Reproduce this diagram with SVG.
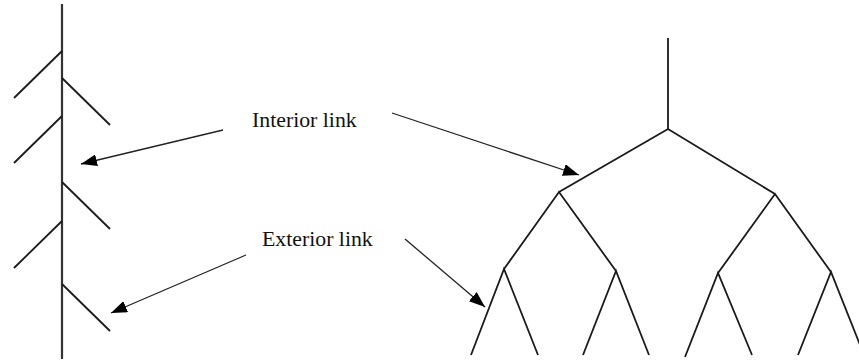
<svg xmlns="http://www.w3.org/2000/svg" width="859" height="362" viewBox="0 0 859 362">
<style>
.tree{stroke:#1a1a1a;stroke-width:1.8;fill:none;stroke-linecap:butt}
.arrow{stroke:#222;stroke-width:1.3;fill:none}
.lbl{font-family:"Liberation Serif","Times New Roman",serif;font-size:21.8px;fill:#111}
</style>
<defs>
<marker id="ah" viewBox="0 0 16 12" refX="16" refY="6" markerWidth="16" markerHeight="12" markerUnits="userSpaceOnUse" orient="auto">
<polygon points="0,0 16,6 0,12" fill="#000"/>
</marker>
</defs>
<rect width="859" height="362" fill="#fff"/>
<g id="caterpillar">
<line class="tree" x1="62" y1="4" x2="62" y2="359" style="stroke:#333;stroke-width:2.2"/>
<line class="tree" x1="62" y1="51" x2="14" y2="98"/>
<line class="tree" x1="62" y1="116" x2="14" y2="163"/>
<line class="tree" x1="62" y1="221" x2="14" y2="268"/>
<line class="tree" x1="62" y1="78" x2="110" y2="125"/>
<line class="tree" x1="62" y1="182" x2="110" y2="229"/>
<line class="tree" x1="62" y1="284" x2="110" y2="331"/>
</g>
<g id="balanced">
<line class="tree" x1="668" y1="38" x2="668" y2="129"/>
<polyline class="tree" points="559,192 668,129 775,194"/>
<polyline class="tree" points="504,269 559,192 616,271"/>
<polyline class="tree" points="718,273 775,194 831,272"/>
<polyline class="tree" points="471,355 504,269 538,355"/>
<polyline class="tree" points="583,355 616,271 649,355"/>
<polyline class="tree" points="685,357 718,273 752,355"/>
<polyline class="tree" points="798,355 831,272 864,355"/>
</g>
<g id="label-interior">
<text class="lbl" x="252" y="127">Interior link</text>
</g>
<g id="label-exterior">
<text class="lbl" x="262" y="246">Exterior link</text>
</g>
<g id="connectors">
<line class="arrow" x1="223" y1="130" x2="81" y2="164" marker-end="url(#ah)"/>
<line class="arrow" x1="392" y1="113" x2="579" y2="175" marker-end="url(#ah)"/>
<line class="arrow" x1="246" y1="255" x2="111" y2="313" marker-end="url(#ah)"/>
<line class="arrow" x1="405" y1="239" x2="485" y2="307" marker-end="url(#ah)"/>
</g>
</svg>
